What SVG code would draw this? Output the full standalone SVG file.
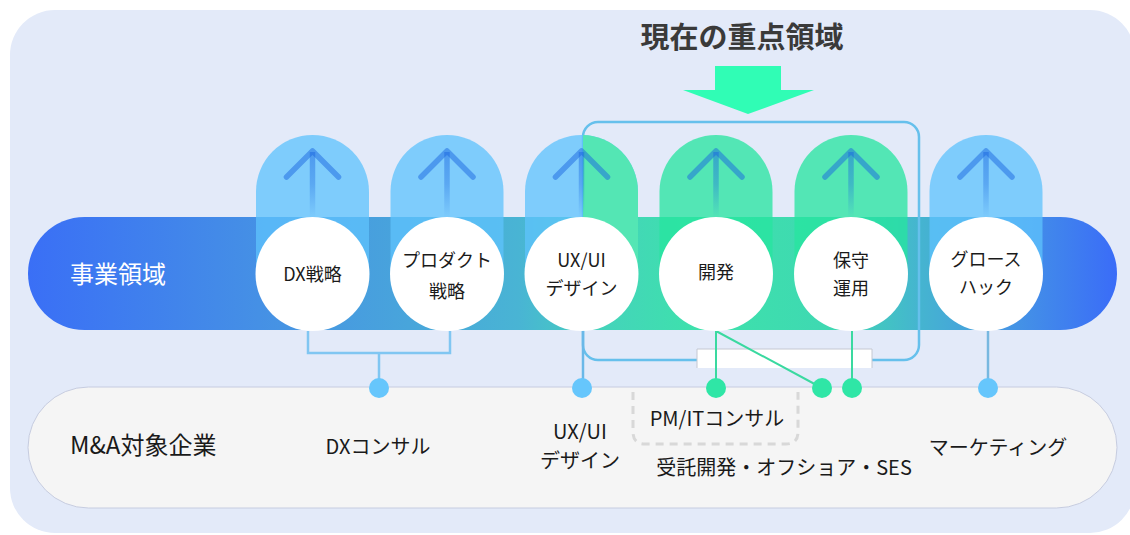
<svg xmlns="http://www.w3.org/2000/svg" width="1130" height="535" viewBox="0 0 1130 535">
<defs>
<linearGradient id="bandGrad" gradientUnits="userSpaceOnUse" x1="28" y1="0" x2="1117" y2="0">
<stop offset="0" stop-color="#3a6ff6"/>
<stop offset="0.25" stop-color="#4796e2"/>
<stop offset="0.45" stop-color="#49b4d4"/>
<stop offset="0.53" stop-color="#44d4ba"/>
<stop offset="0.62" stop-color="#3de2ab"/>
<stop offset="0.74" stop-color="#3fd8b2"/>
<stop offset="0.82" stop-color="#45b4d0"/>
<stop offset="0.9" stop-color="#4596e4"/>
<stop offset="1" stop-color="#3a6cf8"/>
</linearGradient>
<linearGradient id="shaftGrad" gradientUnits="userSpaceOnUse" x1="0" y1="150" x2="0" y2="218">
<stop offset="0" stop-color="#1a66e0" stop-opacity="0.5"/>
<stop offset="0.5" stop-color="#1a66e0" stop-opacity="0.35"/>
<stop offset="1" stop-color="#1a66e0" stop-opacity="0"/>
</linearGradient>
<clipPath id="focusClip"><rect x="583" y="100" width="340" height="200"/></clipPath>
<path id="pill" d="M-56.5,274 V191.5 A56.5,56.5 0 0 1 56.5,191.5 V274 Z"/>
<g id="arrow">
<line x1="0" y1="152" x2="0" y2="218" stroke="url(#shaftGrad)" stroke-width="5.5"/>
<polyline points="-26,177 0,151 26,177" fill="none" stroke="#1a66e0" stroke-opacity="0.5" stroke-width="5.5" stroke-linecap="round" stroke-linejoin="round"/>
</g>
</defs>
<style>
.pb{fill:#5fc3fd;fill-opacity:0.76}
.pg{fill:#26e59f;fill-opacity:0.76}
.pgs{fill:#54e6b4}
.circ{fill:#ffffff}
.ct{font-family:"Noto Sans CJK JP","Noto Sans",sans-serif;font-size:18px;fill:#1a1a1a;text-anchor:middle}
.lt{font-family:"Noto Sans CJK JP","Noto Sans",sans-serif;font-size:20px;fill:#1a1a1a;text-anchor:middle}
.big{font-family:"Noto Sans CJK JP","Noto Sans",sans-serif;font-size:24px}
.cb{fill:none;stroke:#80c6f2;stroke-width:2.5}
.cg{fill:none;stroke:#3ad9a0;stroke-width:2}
.db{fill:#66c6fc}
.dg{fill:#2fe6a6}
</style>
<rect x="10" y="10" width="1125" height="523" rx="45" fill="#e3eaf9"/>

<g id="title">
<text x="742" y="48" font-family="'Noto Sans CJK JP','Noto Sans',sans-serif" font-size="29" font-weight="700" fill="#3a3a3a" text-anchor="middle">現在の重点領域</text>
<polygon points="715,66 781,66 781,90 814,90 748,114 683,90 715,90" fill="#30fdb5"/>
</g>

<g id="band-business">
<rect x="28" y="217" width="1089" height="113" rx="56.5" fill="url(#bandGrad)"/>
<text x="70" y="283" class="big" fill="#ffffff">事業領域</text>
</g>

<g id="band-ma">
<rect x="28" y="387" width="1089" height="121" rx="60.5" fill="#f5f5f5" stroke="#c6cce0" stroke-width="1"/>
<text x="70" y="454" class="big" fill="#1a1a1a">M&amp;A対象企業</text>
</g>

<g id="focus-box">
<rect x="583" y="122" width="336" height="238" rx="15" fill="none" stroke="#66c0ec" stroke-width="2.5"/>
<path d="M697,368 V349 H872 V368" fill="#ffffff" stroke="#c4c8d2" stroke-width="1"/>
</g>

<g id="pills">
<use href="#pill" x="312.5" class="pb"/>
<use href="#pill" x="447" class="pb"/>
<use href="#pill" x="581.5" class="pb"/>
<g clip-path="url(#focusClip)"><use href="#pill" x="581.5" class="pgs"/></g>
<use href="#pill" x="716" class="pg"/>
<use href="#pill" x="851" class="pg"/>
<use href="#pill" x="986" class="pb"/>
</g>

<g id="arrows">
<use href="#arrow" x="312.5"/>
<use href="#arrow" x="447"/>
<use href="#arrow" x="581.5"/>
<use href="#arrow" x="716"/>
<use href="#arrow" x="851"/>
<use href="#arrow" x="986"/>
</g>

<g id="connectors">
<path class="cb" d="M308,331 V353 H450 V331 M379,353 V388"/>
<path class="cb" d="M583,331 V388" style="stroke:#6ab8e8"/>
<path class="cg" d="M716,331 V388 M716,331 L822,388"/>
<path class="cg" d="M852,331 V388"/>
<path class="cb" d="M988,331 V388" style="stroke:#78b8e0"/>
<path d="M633,392 V432 Q633,444 645,444 H786 Q798,444 798,432 V392" fill="none" stroke="#d8d8d8" stroke-width="3" stroke-dasharray="8 6"/>
</g>

<g id="node-dx"><circle class="circ" cx="312.5" cy="274" r="57"/><text class="ct" x="312.5" y="281">DX戦略</text></g>
<g id="node-product"><circle class="circ" cx="447" cy="274" r="57"/><text class="ct" x="447" y="267">プロダクト</text><text class="ct" x="447" y="298">戦略</text></g>
<g id="node-uxui"><circle class="circ" cx="581.5" cy="274" r="57"/><text class="ct" x="581.5" y="267">UX/UI</text><text class="ct" x="581.5" y="295">デザイン</text></g>
<g id="node-dev"><circle class="circ" cx="716" cy="274" r="57"/><text class="ct" x="716" y="279">開発</text></g>
<g id="node-ops"><circle class="circ" cx="851" cy="274" r="57"/><text class="ct" x="851" y="267">保守</text><text class="ct" x="851" y="295">運用</text></g>
<g id="node-growth"><circle class="circ" cx="986" cy="274" r="57"/><text class="ct" x="986" y="266">グロース</text><text class="ct" x="986" y="294">ハック</text></g>

<g id="dots">
<circle class="db" cx="379" cy="388" r="10"/>
<circle class="db" cx="582" cy="388" r="10"/>
<circle class="dg" cx="716" cy="388" r="10"/>
<circle class="dg" cx="822" cy="388" r="10"/>
<circle class="dg" cx="852" cy="388" r="10"/>
<circle class="db" cx="988" cy="388" r="10"/>
</g>

<g id="ma-dx"><text class="lt" x="378" y="454">DXコンサル</text></g>
<g id="ma-uxui"><text class="lt" x="580" y="439">UX/UI</text><text class="lt" x="580" y="468">デザイン</text></g>
<g id="ma-pm"><text class="lt" x="717" y="426">PM/ITコンサル</text></g>
<g id="ma-dev"><text class="lt" x="784" y="475">受託開発・オフショア・SES</text></g>
<g id="ma-mkt"><text class="lt" x="998" y="455">マーケティング</text></g>
</svg>
